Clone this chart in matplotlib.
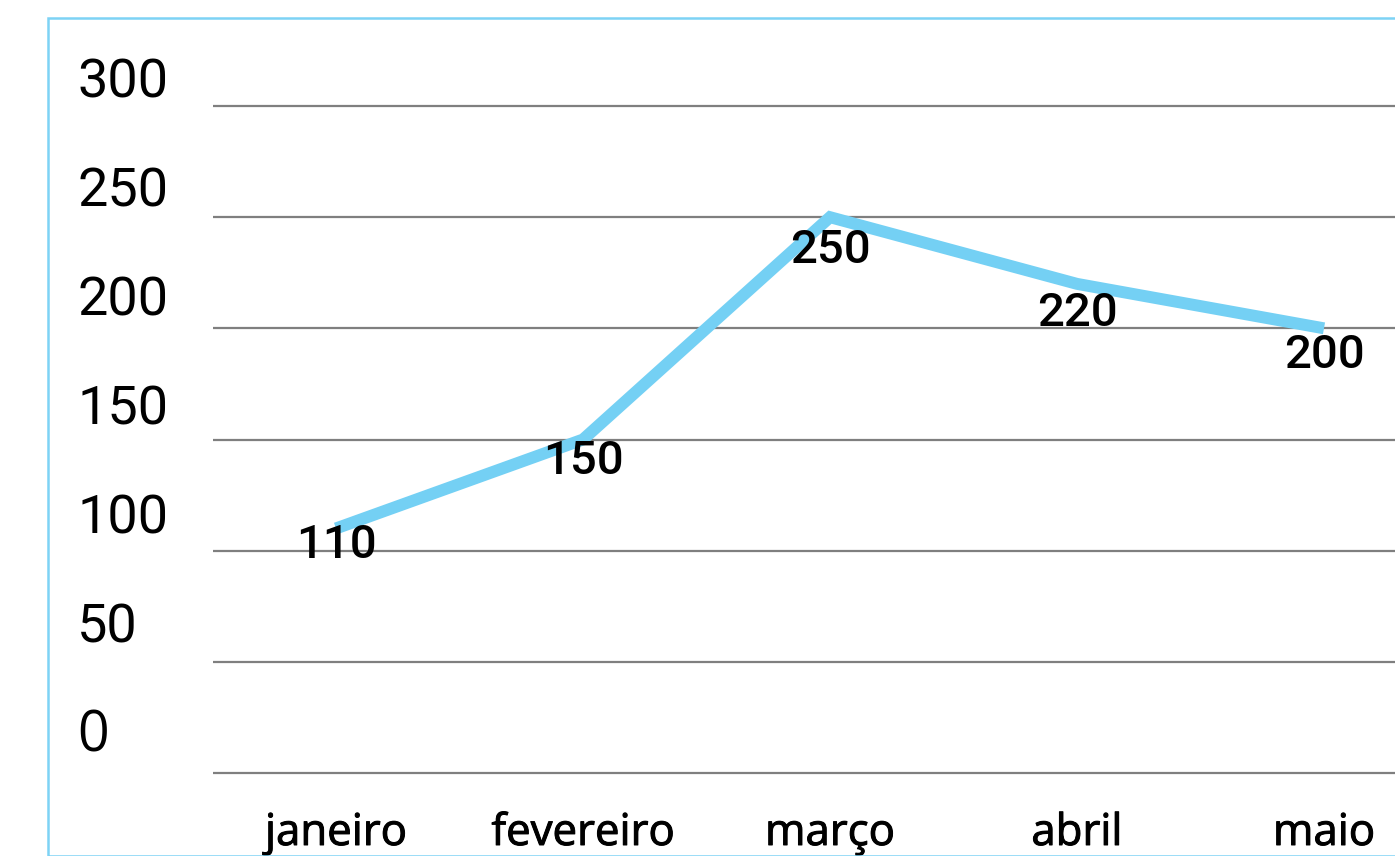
import matplotlib
matplotlib.use("Agg")
import matplotlib.pyplot as plt
import matplotlib.patheffects as pe
from matplotlib.patches import Rectangle

# Data
months = ["janeiro", "fevereiro", "março", "abril", "maio"]
values = [110, 150, 250, 220, 200]
y_ticks = [0, 50, 100, 150, 200, 250, 300]

LINE_COLOR = "#74d0f4"
GRID_COLOR = "#7f7f7f"

W, H, DPI = 1395, 856, 100
fig = plt.figure(figsize=(W / DPI, H / DPI), dpi=DPI)
fig.patch.set_facecolor("white")

# Plot area: from x=213 px to the right edge, from y=17 px to the bottom edge
ax = fig.add_axes([213 / W, 0, 1 - 213 / W, (H - 17) / H])
px_per_unit = (773 - 106) / 300.0
ax.set_ylim(-(H - 773) / px_per_unit, (773 - 17) / px_per_unit)
x0, step = 336.0, 247.0
ax.set_xlim((213 - x0) / step, (W - x0) / step)
ax.axis("off")

# Horizontal grid lines
for v in y_ticks:
    ax.axhline(v, color=GRID_COLOR, lw=1.6, zorder=1)

# Series line
xs = list(range(len(months)))
ax.plot(xs, values, color=LINE_COLOR, lw=8.6, solid_joinstyle="miter",
        solid_capstyle="butt", zorder=3)

# Value labels below each point
for x, v in zip(xs, values):
    ax.annotate(str(v), xy=(x, v), xytext=(0, -(16.8 + 0.116 * v)),
                textcoords="offset pixels", ha="center", va="baseline",
                fontsize=34, family="Roboto", fontweight="medium",
                color="black", zorder=4)

# Month labels (slightly heavier than the regular face)
heavier = [pe.withStroke(linewidth=0.7, foreground="black")]
for x, m in zip(xs, months):
    ax.annotate(m, xy=(x, 0), xytext=(0, -72), textcoords="offset pixels",
                ha="center", va="baseline", fontsize=31.5, family="Open Sans",
                color="black", path_effects=heavier)

# Y axis labels, left aligned, sitting above their grid lines
for v in y_ticks:
    fam = "Open Sans" if v == 0 else "Roboto"
    size = 40 if v == 0 else 39
    ax.annotate(str(v), xy=(0, v), xycoords=("figure pixels", "data"),
                xytext=(77, 21 - 0.04 * v), textcoords="offset pixels",
                ha="left", va="baseline", fontsize=size, family=fam,
                color="black", annotation_clip=False)

# Frame around the chart
fig.patches.append(Rectangle((48 / W, 0), 1.2, (H - 18) / H,
                             transform=fig.transFigure, fill=False,
                             edgecolor="#7dd3f5", lw=1.8))

fig.savefig("out.png", dpi=DPI, facecolor="white")
